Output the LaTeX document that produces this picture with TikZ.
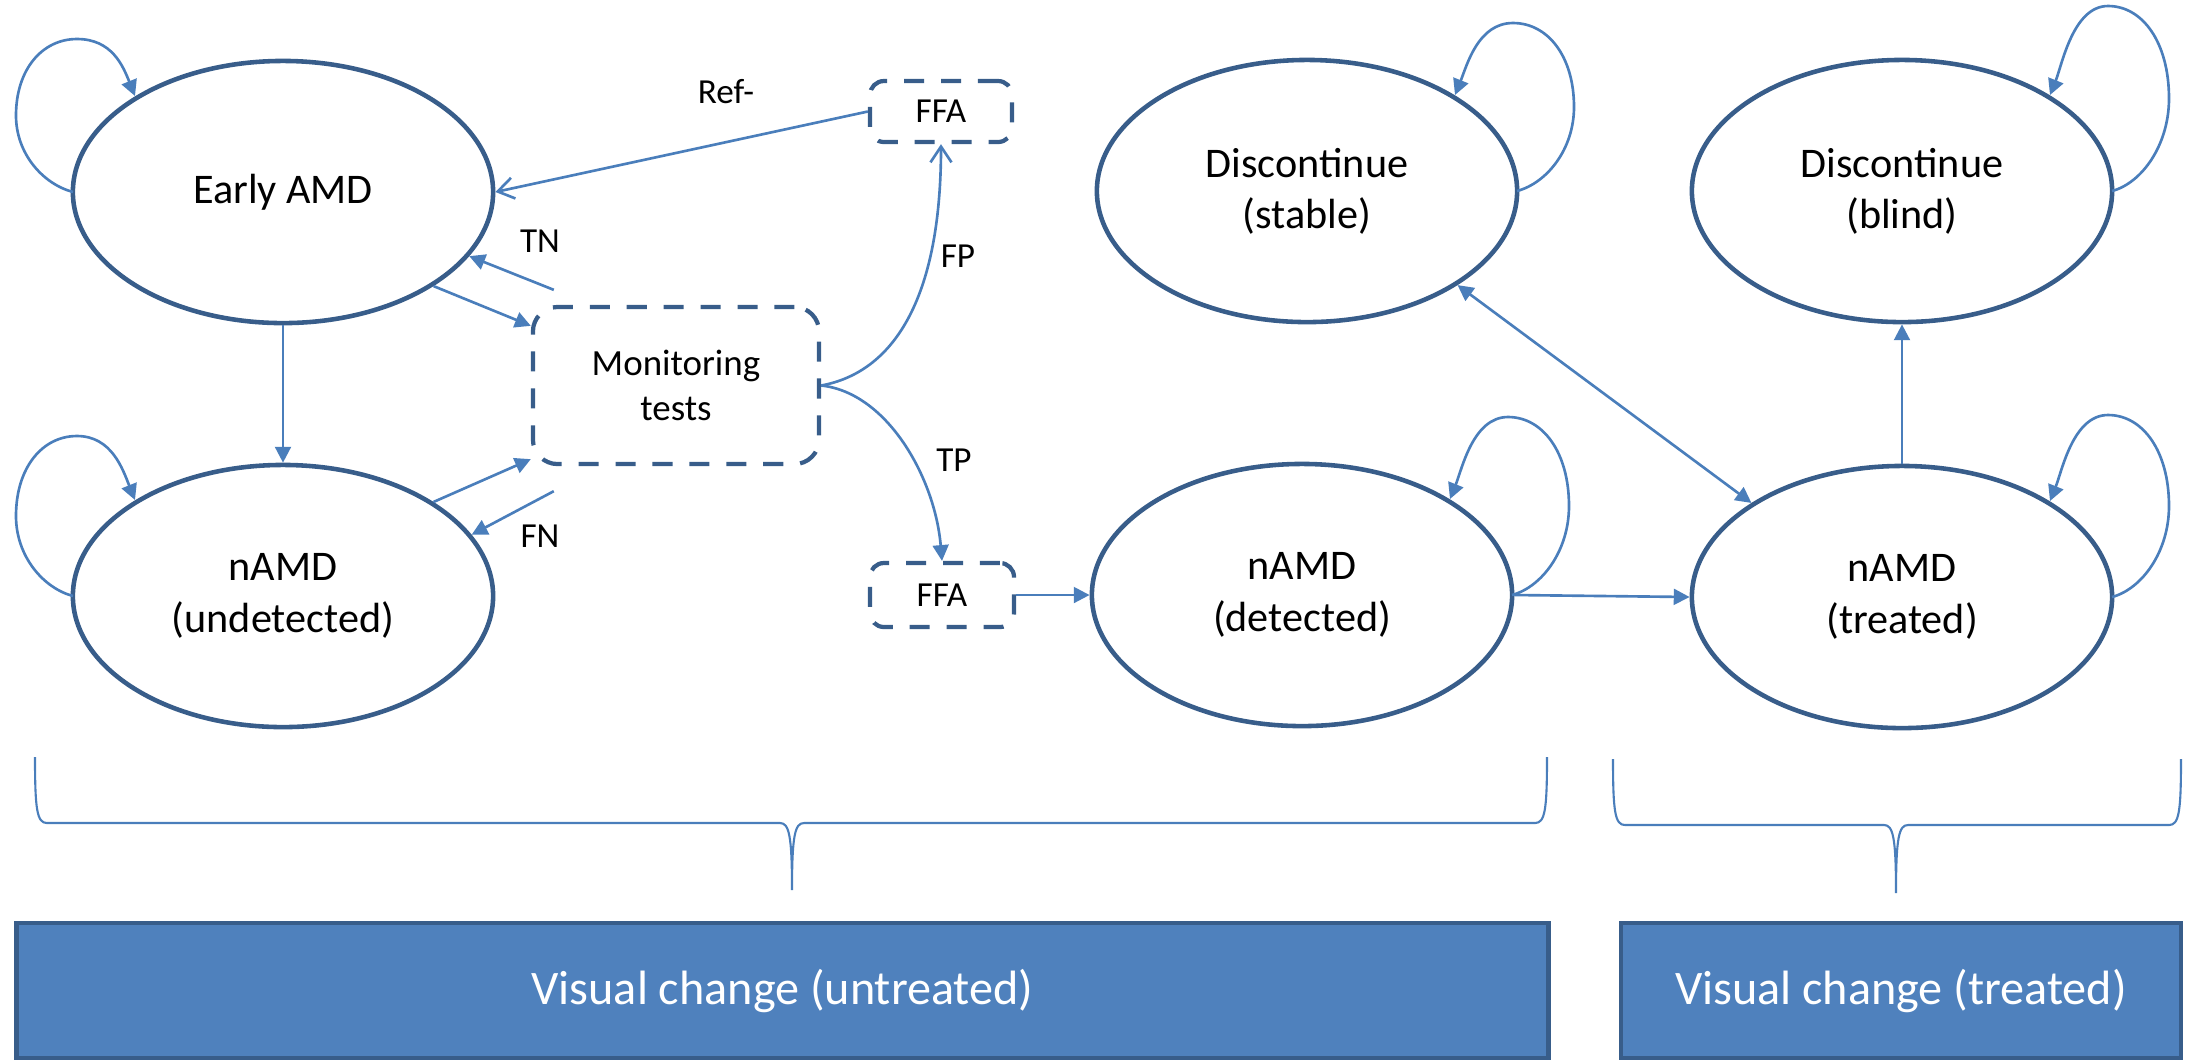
\documentclass[tikz,border=0pt]{standalone}
\usepackage{fontspec}
\setmainfont{Carlito}
\usetikzlibrary{arrows.meta,shapes.geometric,calc}
\definecolor{edgeblue}{HTML}{385D8A}
\definecolor{connblue}{HTML}{4A7EBB}
\definecolor{fillblue}{HTML}{4F81BD}
\newcommand\selfloop[3]{%
  \draw[conn,tri]
  ([shift={(#2*210,0)}]#1.center)
  .. controls +({#2*30},-8) and +(0,{0.25*#3}) ..
  ([shift={({#2*267},{-0.5*#3})}]#1.center)
  .. controls +(0,{-0.3*#3}) and +({#2*35},0) ..
  ([shift={({#2*206},{-#3})}]#1.center)
  .. controls +({-(#2)*35},0) and +({#2*12},-30) ..
  ([shift={({#2*148},-96)}]#1.center);
}
\begin{document}
\begin{tikzpicture}[x=0.01cm,y=-0.01cm,
  state/.style={ellipse,draw=edgeblue,line width=1.3pt,minimum width=4.2cm,minimum height=2.62cm,inner sep=0pt,align=center,font=\fontsize{12}{14.6}\selectfont},
  dashbox/.style={draw=edgeblue,line width=1.2pt,dash pattern=on 5.7pt off 4.8pt,align=center,inner sep=0pt},
  conn/.style={draw=connblue,line width=0.75pt},
  tri/.style={-{Triangle[length=4.5pt,width=4.5pt]}},
  barb/.style={-{Straight Barb[length=4.5pt,width=6pt]}},
  lbl/.style={font=\fontsize{10}{12}\selectfont,inner sep=0pt},
  band/.style={draw=edgeblue,fill=fillblue,line width=1.2pt,text=white,font=\fontsize{13.7}{16}\selectfont,inner sep=0pt},
  bracel/.style={draw=connblue,line width=0.6pt}]
\useasboundingbox (0,0) rectangle (2199,1062);

% states
\node[state] (ea) at (283,192) {Early AMD};
\node[state] (eu) at (283,596) {nAMD\\(undetected)};
\node[state] (ds) at (1307,191) {Discontinue\\(stable)};
\node[state] (db) at (1902,191) {Discontinue\\(blind)};
\node[state] (nd) at (1302,595) {nAMD\\(detected)};
\node[state] (nt) at (1902,597) {nAMD\\(treated)};

% dashed boxes
\node[dashbox,rounded corners=7pt,minimum width=2.86cm,minimum height=1.57cm,font=\fontsize{10.5}{12.8}\selectfont] (mt) at (676,385.5) {Monitoring\\tests};
\node[dashbox,rounded corners=4pt,minimum width=1.42cm,minimum height=0.61cm,font=\fontsize{10}{12}\selectfont] (fa) at (941,111.5) {FFA};
\node[dashbox,rounded corners=4pt,minimum width=1.44cm,minimum height=0.64cm,font=\fontsize{10}{12}\selectfont] (fb) at (942,595) {FFA};

% labels
\node[lbl] (lref) at (726,92) {Ref-};
\node[lbl] (ltn) at (540,241) {TN};
\node[lbl] (lfn) at (540,536) {FN};
\node[lbl] (lfp) at (958,256) {FP};
\node[lbl] (ltp) at (954,460) {TP};

% free ends
\coordinate (tnstart) at ($(mt.north west)+(23,-15)$);
\coordinate (fnstart) at ($(mt.south west)+(23,25)$);
\coordinate (mtin1) at ($(mt.north west)+(0,21)$);
\coordinate (mtin2) at ($(mt.south west)+(0,-7)$);

% connectors
\draw[conn,tri] (ea.south) -- (eu.north);
\draw[conn,tri] (ea.-32) -- (mtin1);
\draw[conn,tri] (tnstart) -- (ea.-19);
\draw[conn,tri] (eu.32) -- (mtin2);
\draw[conn,tri] (fnstart) -- (eu.18);
\draw[conn,barb] (fa.west) -- (ea.east);
\draw[conn,barb] (mt.east) .. controls +(71,-13) and +(0,157) .. (fa.south);
\draw[conn,tri] (mt.east) .. controls +(66,7) and +(-7,-83) .. (fb.north);
\draw[conn,tri] (fb.east) -- (nd.west);
\draw[conn,tri] (nd.east) -- (nt.west);
\draw[conn,tri] (nt.north) -- (db.south);
\draw[conn,{Triangle[length=4.5pt,width=4.5pt]}-{Triangle[length=4.5pt,width=4.5pt]}] (ds.-32) -- (nt.148);

% self loops
\selfloop{ea}{-1}{153}
\selfloop{eu}{-1}{160}
\selfloop{ds}{1}{168}
\selfloop{db}{1}{185}
\selfloop{nd}{1}{178}
\selfloop{nt}{1}{182}

% braces
\draw[bracel] (35,757) .. controls (35,810) and (37,823) .. (47,823) -- (780,823)
  .. controls (789,823) and (792,835) .. (792,890)
  .. controls (792,835) and (795,823) .. (804,823) -- (1535,823)
  .. controls (1545,823) and (1547,810) .. (1547,757);
\draw[bracel] (1613,759) .. controls (1613,812) and (1615,825) .. (1625,825) -- (1884,825)
  .. controls (1893,825) and (1896,837) .. (1896,893)
  .. controls (1896,837) and (1899,825) .. (1908,825) -- (2169,825)
  .. controls (2179,825) and (2181,812) .. (2181,759);

% bottom bands
\node[band,minimum width=15.31cm,minimum height=1.35cm] (vu) at (782.5,990.5) {Visual change (untreated)};
\node[band,minimum width=5.6cm,minimum height=1.35cm] (vt) at (1901,990.5) {Visual change (treated)};
\end{tikzpicture}
\end{document}
